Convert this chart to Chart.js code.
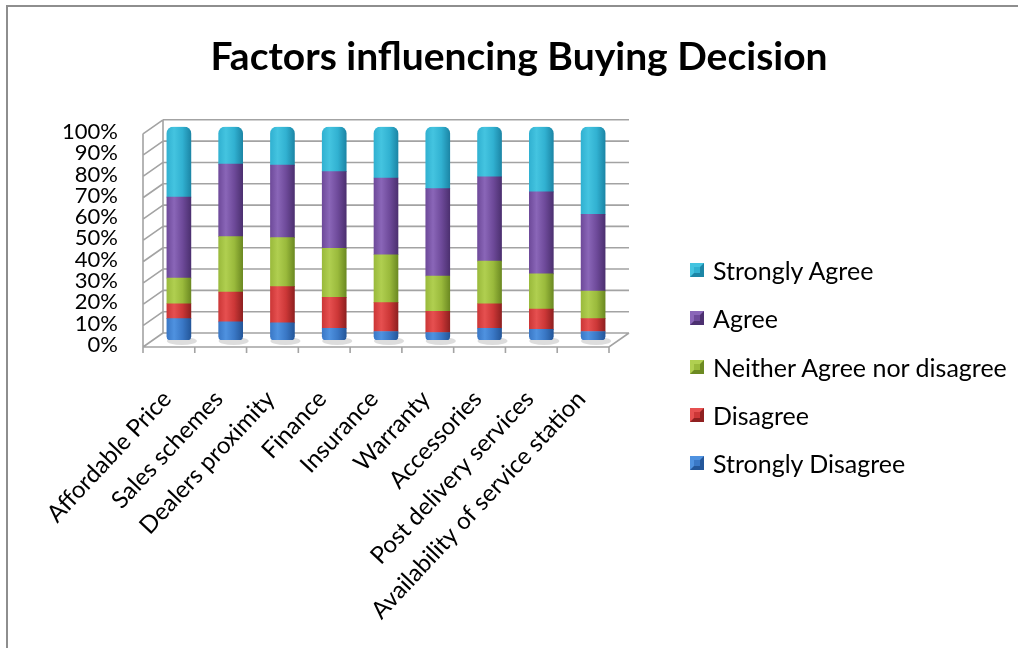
<!DOCTYPE html>
<html>
<head>
<meta charset="utf-8">
<script src="https://cdn.jsdelivr.net/npm/chart.js@4.4.1/dist/chart.umd.min.js"></script>
<style>
  html, body { margin: 0; padding: 0; background: #fff; overflow: hidden; }
  #wrap { position: relative; width: 1018px; height: 648px; overflow: hidden; background: #fff; }
  #frame { position: absolute; left: 6px; top: 5px; width: 1012px; height: 643px; border-left: 2px solid #8e8e8e; border-top: 2px solid #8e8e8e; box-sizing: border-box; }
  #c { position: absolute; left: 0; top: 0; }
  #legend { position: absolute; left: 690px; top: 0; font-family: Lato, "Noto Sans", sans-serif; font-size: 25px; color: #000; }
  .item { position: absolute; left: 0; white-space: nowrap; display: flex; align-items: center; height: 30px; }
  .box { width: 14px; height: 14px; box-sizing: border-box; border-style: solid; border-width: 4px; margin-right: 9px; }
</style>
</head>
<body>
<div id="wrap">
  <div id="frame"></div>
  <canvas id="c" width="1018" height="648"></canvas>
  <div id="legend"></div>
</div>
<script>
// ---- data (percent of respondents) ----
const categories = ['Affordable Price', 'Sales schemes', 'Dealers proximity', 'Finance', 'Insurance',
  'Warranty', 'Accessories', 'Post delivery services', 'Availability of service station'];
const seriesNames = ['Strongly Disagree', 'Disagree', 'Neither Agree nor disagree', 'Agree', 'Strongly Agree'];
const stronglyDisagree = [10, 8.5, 8, 5.5, 4, 3.5, 5.5, 5, 4];
const disagree         = [7, 14, 17, 14.5, 13.5, 10, 11.5, 9.5, 6];
const neither          = [12, 26, 23, 23, 22.5, 16.5, 20, 16.5, 13];
const agree            = [38, 34, 34, 36, 36, 41, 39.5, 38.5, 36];
const stronglyAgree    = [33, 17.5, 18, 21, 24, 29, 23.5, 30.5, 41];
const yTickValues      = [0, 10, 20, 30, 40, 50, 60, 70, 80, 90, 100];

// colour ramps: [light, mid, dark]
const ramps = [
  ['#4f92e0', '#3a78c6', '#24579a'],
  ['#e65050', '#cc3737', '#8f2020'],
  ['#b0cf50', '#9aba3c', '#6c8a22'],
  ['#8a66b8', '#6e4a9a', '#4c3070'],
  ['#44c4e0', '#31b1d1', '#1c86a6']
];
const FONT = 'Lato, "Noto Sans", sans-serif';

function barColor(i) {
  return (c) => {
    const chart = c.chart;
    const xs = chart.scales && chart.scales.x;
    if (!xs || c.dataIndex === undefined || !chart.chartArea) return ramps[i][1];
    const cx = xs.getPixelForValue(c.dataIndex);
    const g = chart.ctx.createLinearGradient(cx - 12, 0, cx + 12, 0);
    g.addColorStop(0, ramps[i][1]);
    g.addColorStop(0.3, ramps[i][0]);
    g.addColorStop(0.65, ramps[i][1]);
    g.addColorStop(1, ramps[i][2]);
    return g;
  };
}

const values = [stronglyDisagree, disagree, neither, agree, stronglyAgree];
const datasets = values.map((v, i) => ({
  label: seriesNames[i],
  data: v,
  backgroundColor: barColor(i),
  borderWidth: 0,
  borderSkipped: false,
  borderRadius: i === 4 ? { topLeft: 7, topRight: 7, bottomLeft: 0, bottomRight: 0 }
               : (i === 0 ? { topLeft: 0, topRight: 0, bottomLeft: 4, bottomRight: 4 } : 0),
  barThickness: 24
}));

// 3D-looking walls and floor drawn from the scales
const DX = 10, DY = 7;
const framePlugin = {
  id: 'frame3d',
  beforeDatasetsDraw(chart) {
    const { ctx, chartArea: a, scales: { y } } = chart;
    const L = a.left, R = a.right;
    const y0 = y.getPixelForValue(0), y100 = y.getPixelForValue(100);
    ctx.save();
    ctx.strokeStyle = '#a3a3a3';
    ctx.lineWidth = 1.6;
    ctx.beginPath();
    yTickValues.forEach(v => {
      const yb = y.getPixelForValue(v) - DY;
      ctx.moveTo(L + DX, yb); ctx.lineTo(R + DX, yb);
      ctx.moveTo(L - DX, yb + 2 * DY); ctx.lineTo(L + DX, yb);
    });
    ctx.moveTo(L - DX, y0 + DY); ctx.lineTo(L - DX, y100 + DY);
    ctx.moveTo(L + DX, y0 - DY); ctx.lineTo(L + DX, y100 - DY);
    ctx.moveTo(L - DX, y0 + DY); ctx.lineTo(R - DX, y0 + DY);
    ctx.lineTo(R + DX, y0 - DY);
    const n = categories.length;
    for (let i = 0; i <= n; i++) {
      const x = L - DX + i * (R - L) / n;
      ctx.moveTo(x, y0 + DY); ctx.lineTo(x, y0 + DY + 6);
    }
    ctx.stroke();
    const xs = chart.scales.x;
    ctx.fillStyle = 'rgba(120,120,120,0.25)';
    categories.forEach((_, i) => {
      const cx = xs.getPixelForValue(i);
      ctx.beginPath();
      ctx.ellipse(cx + 3, y0 + 1, 15, 4, 0, 0, Math.PI * 2);
      ctx.fill();
    });
    ctx.restore();
  }
};

new Chart(document.getElementById('c'), {
  type: 'bar',
  data: { labels: categories, datasets },
  plugins: [framePlugin],
  options: {
    responsive: false,
    animation: false,
    events: [],
    layout: { padding: { left: 20, right: 0, top: 0, bottom: 0 } },
    plugins: {
      legend: { display: false },
      tooltip: { enabled: false },
      title: {
        display: true,
        text: 'Factors influencing Buying Decision',
        color: '#000',
        font: { family: FONT, size: 39, weight: 'bold' },
        padding: { top: 34, bottom: 46 }
      }
    },
    scales: {
      x: {
        stacked: true,
        grid: { display: false, drawTicks: false },
        border: { display: false },
        ticks: {
          color: '#000', font: { family: FONT, size: 24 },
          maxRotation: 47, minRotation: 47, autoSkip: false,
          padding: 45, labelOffset: -12
        },
        afterFit(s) { s.height = 308; }
      },
      y: {
        stacked: true, min: 0, max: 100,
        afterBuildTicks(s) { s.ticks = yTickValues.map(v => ({ value: v })); },
        grid: { display: false, drawTicks: false },
        border: { display: false },
        ticks: {
          color: '#000', font: { family: FONT, size: 22 },
          padding: 35, labelOffset: 5, autoSkip: false,
          callback: v => v + '%'
        },
        afterFit(s) { s.width = 133; }
      },
      yR: {
        position: 'right', display: true,
        grid: { display: false, drawTicks: false },
        border: { display: false },
        ticks: { display: false },
        afterFit(s) { s.width = 399; }
      }
    }
  }
});

// legend (top entry = top of the stack)
const legendTops = [270, 318, 367, 415, 463];
const leg = document.getElementById('legend');
[4, 3, 2, 1, 0].forEach((si, k) => {
  const r = ramps[si];
  const it = document.createElement('div');
  it.className = 'item';
  it.style.top = (legendTops[k] - 15) + 'px';
  const b = document.createElement('span');
  b.className = 'box';
  b.style.borderColor = `${r[0]} ${r[2]} ${r[2]} ${r[0]}`;
  b.style.background = r[1];
  it.appendChild(b);
  const t = document.createElement('span');
  t.textContent = seriesNames[si];
  it.appendChild(t);
  leg.appendChild(it);
});
</script>
</body>
</html>
